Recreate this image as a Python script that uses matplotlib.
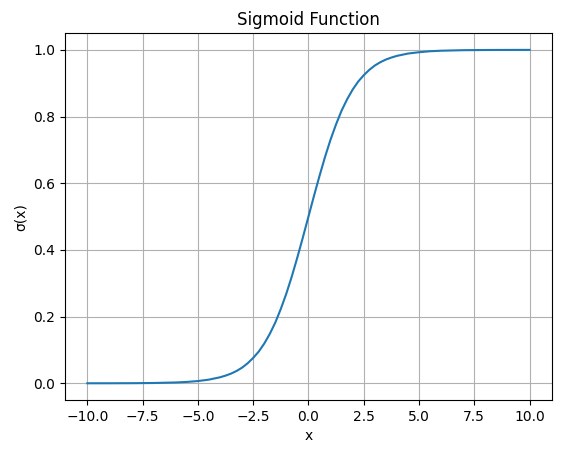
import matplotlib
matplotlib.use("Agg")
import matplotlib.pyplot as plt

# points
x = [-10, -9, -8, -7, -6, -5.5, -5, -4.5, -4, -3.75, -3.5, -3.25, -3, -2.75, -2.5, -2.25,
     -2, -1.75, -1.5, -1.25, -1, -0.75, -0.5, -0.25, 0, 0.25, 0.5, 0.75, 1, 1.25, 1.5,
     1.75, 2, 2.25, 2.5, 2.75, 3, 3.25, 3.5, 3.75, 4, 4.5, 5, 5.5, 6, 7, 8, 9, 10]
y = [0.00005, 0.0001, 0.0003, 0.0009, 0.0025, 0.0041, 0.0067, 0.011, 0.018, 0.023, 0.029,
     0.037, 0.047, 0.060, 0.076, 0.095, 0.119, 0.148, 0.182, 0.223, 0.269, 0.321, 0.378,
     0.438, 0.5, 0.562, 0.622, 0.679, 0.731, 0.777, 0.818, 0.852, 0.881, 0.905, 0.924,
     0.940, 0.953, 0.963, 0.971, 0.977, 0.982, 0.989, 0.993, 0.9959, 0.9975, 0.9991,
     0.9997, 0.9999, 1.0]

fig = plt.figure(figsize=(5.67, 4.55), dpi=100)
ax = fig.add_subplot()
fig.subplots_adjust(left=0.115, right=0.973, top=0.927, bottom=0.121)

ax.plot(x, y)
ax.set_title("Sigmoid Function")
ax.set_xlabel("x")
ax.set_ylabel("σ(x)")
ax.grid(True)

fig.savefig("out.png")
